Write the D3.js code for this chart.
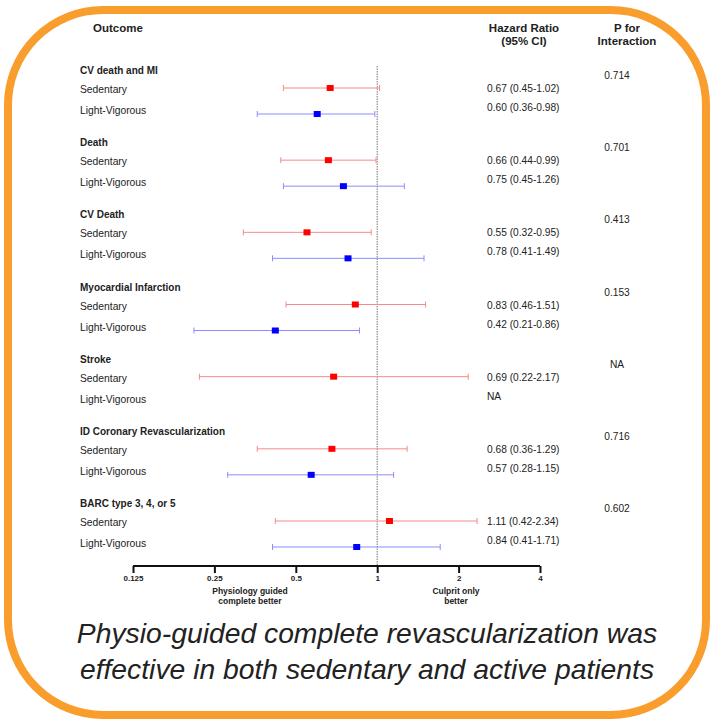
<!DOCTYPE html>
<html>
<head>
<meta charset="utf-8">
<script src="https://cdn.jsdelivr.net/npm/d3@7/dist/d3.min.js"></script>
<style>
body{margin:0;background:#fff;}
text{font-family:"Liberation Sans",Arial,sans-serif;fill:#222;}
</style>
</head>
<body>
<div class="canvas"></div>
<script>
// data
const outcomes=["CV death and MI","Death","CV Death","Myocardial Infarction","Stroke","ID Coronary Revascularization","BARC type 3, 4, or 5"];
const groups=["Sedentary","Light-Vigorous"];
const sedHR=[0.67,0.66,0.55,0.83,0.69,0.68,1.11];
const sedLo=[0.45,0.44,0.32,0.46,0.22,0.36,0.42];
const sedHi=[1.02,0.99,0.95,1.51,2.17,1.29,2.34];
const lvHR=[0.60,0.75,0.78,0.42,null,0.57,0.84];
const lvLo=[0.36,0.45,0.41,0.21,null,0.28,0.41];
const lvHi=[0.98,1.26,1.49,0.86,null,1.15,1.71];
const pInteraction=["0.714","0.701","0.413","0.153","NA","0.716","0.602"];
const xTicks=[0.125,0.25,0.5,1,2,4];

const svg=d3.select('.canvas').append('svg')
.attr("width",710)
.attr('height',721);

// orange frame
svg.append('rect')
.attr("x",8).attr("y",10)
.attr("width",698).attr("height",705)
.attr("rx",95).attr("ry",95)
.attr("fill","none")
.attr("stroke","#f99d2c")
.attr("stroke-width",8);

const x=d3.scaleLog().base(2)
.domain([0.125,4])
.range([133,540]);

// group index -> y of the outcome title
const gy=d3.scaleLinear().domain([0,6]).range([70,503]);

const axisY=566;

// headers
svg.append('text').attr("x",93).attr("y",32)
.attr("font-size",11.5).attr("font-weight","bold").text("Outcome");
svg.append('text').attr("x",524).attr("y",32).attr("text-anchor","middle")
.attr("font-size",11.5).attr("font-weight","bold").text("Hazard Ratio");
svg.append('text').attr("x",524).attr("y",45).attr("text-anchor","middle")
.attr("font-size",11.5).attr("font-weight","bold").text("(95% CI)");
svg.append('text').attr("x",627).attr("y",32).attr("text-anchor","middle")
.attr("font-size",11.5).attr("font-weight","bold").text("P for");
svg.append('text').attr("x",627).attr("y",45).attr("text-anchor","middle")
.attr("font-size",11.5).attr("font-weight","bold").text("Interaction");

// reference line at 1
svg.append('line')
.attr("x1",x(1)).attr("x2",x(1))
.attr("y1",66).attr("y2",axisY)
.attr("stroke","#777").attr("stroke-width",1)
.attr("stroke-dasharray","1.5,1");

const rows=outcomes.map((o,i)=>({
    name:o,i:i,p:pInteraction[i],
    sed:{hr:sedHR[i],lo:sedLo[i],hi:sedHi[i]},
    lv:{hr:lvHR[i],lo:lvLo[i],hi:lvHi[i]}
}));

const g=svg.selectAll('g.row').data(rows).enter().append('g')
.attr("class","row")
.attr("transform",d=>`translate(0,${gy(d.i)})`);

g.append('text').attr("x",80).attr("y",4)
.attr("font-size",10).attr("font-weight","bold").text(d=>d.name);
g.append('text').attr("x",80).attr("y",23)
.attr("font-size",10.3).text(groups[0]);
g.append('text').attr("x",80).attr("y",44)
.attr("font-size",10.3).text(groups[1]);

const fmt=e=>e.hr==null?"NA":`${e.hr.toFixed(2)} (${e.lo.toFixed(2)}-${e.hi.toFixed(2)})`;
g.append('text').attr("x",487).attr("y",22)
.attr("font-size",10.2).text(d=>fmt(d.sed));
g.append('text').attr("x",487).attr("y",41)
.attr("font-size",10.2).text(d=>fmt(d.lv));
g.append('text').attr("x",617).attr("y",9).attr("text-anchor","middle")
.attr("font-size",10.2).text(d=>d.p);

function drawCI(sel,key,dy,lineCol,boxCol){
    const s=sel.filter(d=>d[key].hr!=null);
    s.append('line')
    .attr("x1",d=>x(d[key].lo)).attr("x2",d=>x(d[key].hi))
    .attr("y1",dy).attr("y2",dy)
    .attr("stroke",lineCol).attr("stroke-width",1);
    ["lo","hi"].forEach(k=>{
        s.append('line')
        .attr("x1",d=>x(d[key][k])).attr("x2",d=>x(d[key][k]))
        .attr("y1",dy-3).attr("y2",dy+3)
        .attr("stroke",lineCol).attr("stroke-width",1);
    });
    s.append('rect')
    .attr("x",d=>x(d[key].hr)-3.5).attr("y",dy-3)
    .attr("width",7).attr("height",6)
    .attr("fill",boxCol);
}
drawCI(g,"sed",18,"#f58a8a","#ff0000");
drawCI(g,"lv",44,"#8c8cff","#0000ff");

// axis
const xAxisGroup=svg.append('g')
.attr("transform",`translate(0,${axisY})`);
const xAxis=d3.axisBottom(x)
.tickValues(xTicks)
.tickSize(7)
.tickSizeOuter(0)
.tickFormat(d=>d3.format("")(d));
xAxisGroup.call(xAxis);
xAxisGroup.selectAll('path,line').attr("stroke","#111").attr("stroke-width",2);
xAxisGroup.select('.domain').attr("d",`M${x(0.125)},0H${x(4)}`);
xAxisGroup.selectAll('text')
.attr("font-family","Liberation Sans, Arial, sans-serif")
.attr("font-size",8).attr("font-weight","bold").attr("fill","#222")
.attr("y",9);

[["Physiology guided","complete better",250],["Culprit only","better",456]].forEach(a=>{
    svg.append('text').attr("x",a[2]).attr("y",594).attr("text-anchor","middle")
    .attr("font-size",8.5).attr("font-weight","bold").text(a[0]);
    svg.append('text').attr("x",a[2]).attr("y",604).attr("text-anchor","middle")
    .attr("font-size",8.5).attr("font-weight","bold").text(a[1]);
});

// caption
const caption=["Physio-guided complete revascularization was","effective in both sedentary and active patients"];
svg.selectAll('text.cap').data(caption).enter().append('text')
.attr("class","cap")
.attr("x",367).attr("y",(d,i)=>643+i*36)
.attr("text-anchor","middle")
.attr("font-family","Lato, sans-serif")
.attr("font-style","italic")
.attr("font-size",28.3)
.attr("fill","#000")
.text(d=>d);
</script>
</body>
</html>
